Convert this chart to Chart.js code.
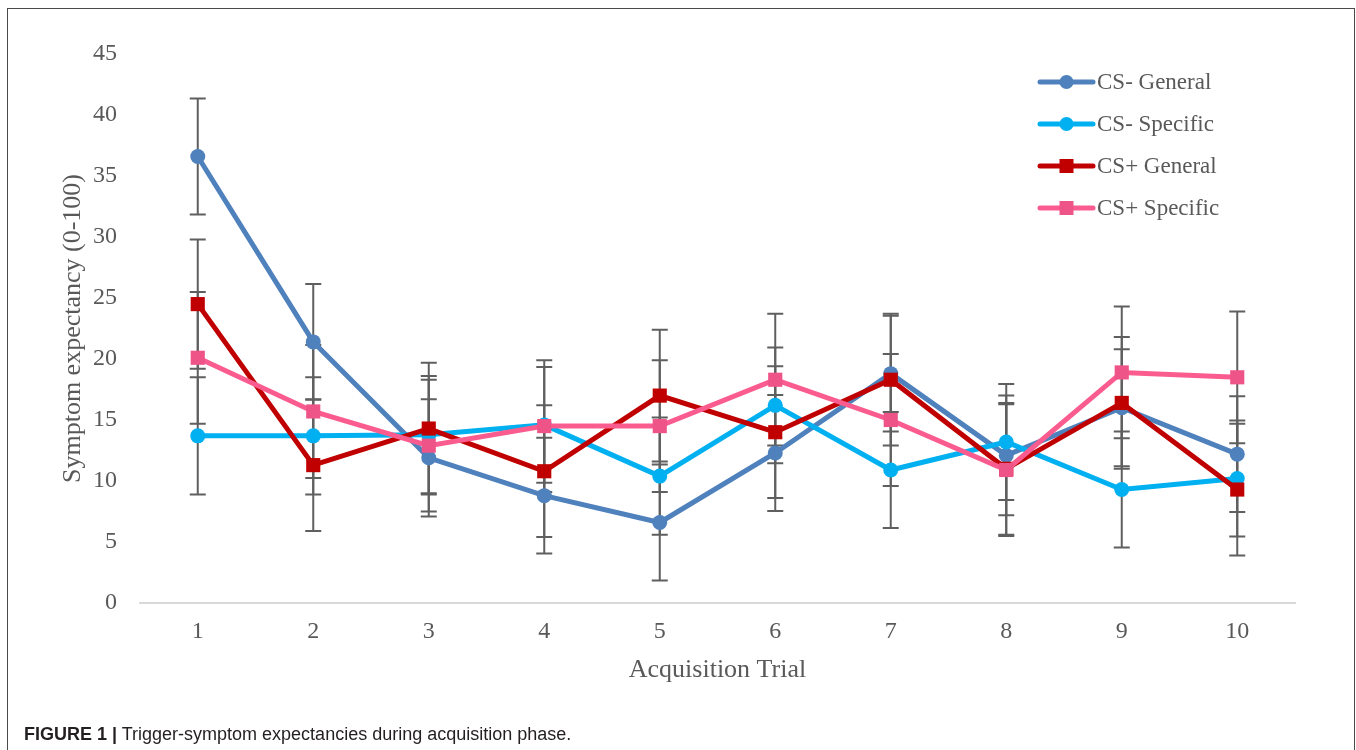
<!DOCTYPE html>
<html>
<head>
<meta charset="utf-8">
<script src="https://cdn.jsdelivr.net/npm/chart.js@4.4.1/dist/chart.umd.min.js"></script>
<style>
  html, body { margin: 0; padding: 0; background: #ffffff; overflow: hidden; }
  body { width: 1356px; height: 750px; position: relative; }
  #wrap { position: absolute; left: 0; top: 0; width: 1356px; height: 700px; }
  #frame {
    position: absolute; left: 7px; top: 8px; width: 1348px; height: 780px;
    box-sizing: border-box; border: 1.5px solid #4a4a4a; pointer-events: none;
  }
  #caption {
    position: absolute; left: 24px; top: 724px;
    font-family: "Liberation Sans", Arial, sans-serif; font-size: 18px;
    color: #231f20; white-space: nowrap;
  }
  #caption b { font-weight: bold; }
</style>
</head>
<body>
<div id="wrap"><canvas id="chart" width="1356" height="700"></canvas></div>
<div id="frame"></div>
<div id="caption"><b>FIGURE 1 |</b> Trigger-symptom expectancies during acquisition phase.</div>
<script>
// Acquisition trials
const trials = ['1', '2', '3', '4', '5', '6', '7', '8', '9', '10'];

// Mean symptom expectancy per trial
const csMinusGeneral  = [36.6, 21.4, 11.9, 8.8, 6.6, 12.3, 18.8, 12.1, 16.0, 12.2];
const csMinusSpecific = [13.7, 13.7, 13.8, 14.6, 10.4, 16.2, 10.9, 13.2, 9.3, 10.2];
const csPlusGeneral   = [24.5, 11.3, 14.3, 10.8, 17.0, 14.0, 18.3, 11.0, 16.4, 9.3];
const csPlusSpecific  = [20.1, 15.7, 12.9, 14.5, 14.5, 18.3, 15.0, 10.9, 18.9, 18.5];

// Error bar half-lengths per trial
const csMinusGeneralErr  = [4.75, 4.75, 4.8, 4.75, 4.75, 4.75, 4.75, 4.9, 4.8, 4.75];
const csMinusSpecificErr = [4.8, 4.8, 4.8, 4.75, 4.8, 4.75, 4.75, 4.75, 4.75, 4.75];
const csPlusGeneralErr   = [5.3, 5.4, 5.4, 5.4, 5.4, 5.4, 5.4, 5.4, 5.4, 5.4];
const csPlusSpecificErr  = [5.4, 5.45, 5.4, 5.4, 5.4, 5.4, 5.4, 5.4, 5.4, 5.4];

// Y axis tick range
const yMin = 0, yMax = 45, yStep = 5;

const seriesNames = ['CS- General', 'CS- Specific', 'CS+ General', 'CS+ Specific'];

const TEXT = '#595959';
const SERIF = '"Liberation Serif", "Times New Roman", serif';

function series(label, data, errors, color, markerColor, style, radius, order) {
  return {
    label, data, errors,
    borderColor: color,
    backgroundColor: markerColor,
    pointBackgroundColor: markerColor,
    pointBorderColor: markerColor,
    pointBorderWidth: 0,
    pointStyle: style,
    pointRadius: radius,
    pointHoverRadius: radius,
    borderWidth: 5,
    tension: 0,
    order
  };
}

const datasets = [
  series(seriesNames[0], csMinusGeneral,  csMinusGeneralErr,  '#4f81bd', '#4f81bd', 'circle', 7.5, 3),
  series(seriesNames[1], csMinusSpecific, csMinusSpecificErr, '#00b0f0', '#00b0f0', 'circle', 7.5, 2),
  series(seriesNames[2], csPlusGeneral,   csPlusGeneralErr,   '#c00000', '#c00000', 'rect', 10, 1),
  series(seriesNames[3], csPlusSpecific,  csPlusSpecificErr,  '#fb5c90', '#ef5489', 'rect', 10, 0)
];

// Vertical error bars with caps, drawn beneath the series lines
const errorBars = {
  id: 'errorBars',
  beforeDatasetsDraw(chart) {
    const { ctx, scales: { y } } = chart;
    ctx.save();
    ctx.strokeStyle = '#5f5f5f';
    ctx.lineWidth = 2;
    const cap = 8;
    chart.data.datasets.forEach((ds, i) => {
      const meta = chart.getDatasetMeta(i);
      ds.data.forEach((v, j) => {
        const e = ds.errors[j];
        const px = meta.data[j].x;
        const top = y.getPixelForValue(v + e);
        const bot = y.getPixelForValue(v - e);
        ctx.beginPath();
        ctx.moveTo(px, top); ctx.lineTo(px, bot);
        ctx.moveTo(px - cap, top); ctx.lineTo(px + cap, top);
        ctx.moveTo(px - cap, bot); ctx.lineTo(px + cap, bot);
        ctx.stroke();
      });
    });
    ctx.restore();
  }
};

// Legend inside the plot: line sample with marker, then label
const insideLegend = {
  id: 'insideLegend',
  afterDraw(chart) {
    const { ctx } = chart;
    const x0 = 1040, x1 = 1093, textX = 1097, y0 = 82, gap = 42;
    ctx.save();
    chart.data.datasets.forEach((ds, i) => {
      const yy = y0 + i * gap;
      ctx.strokeStyle = ds.borderColor;
      ctx.lineWidth = 5;
      ctx.lineCap = 'round';
      ctx.beginPath();
      ctx.moveTo(x0, yy); ctx.lineTo(x1, yy);
      ctx.stroke();
      ctx.fillStyle = ds.pointBackgroundColor;
      const cx = (x0 + x1) / 2;
      if (ds.pointStyle === 'circle') {
        ctx.beginPath(); ctx.arc(cx, yy, 7, 0, Math.PI * 2); ctx.fill();
      } else {
        ctx.fillRect(cx - 7, yy - 7, 14, 14);
      }
      ctx.fillStyle = TEXT;
      ctx.font = '23px ' + SERIF;
      ctx.textBaseline = 'middle';
      ctx.textAlign = 'left';
      ctx.fillText(ds.label, textX, yy + 1);
    });
    ctx.restore();
  }
};

new Chart(document.getElementById('chart'), {
  type: 'line',
  data: { labels: trials, datasets },
  plugins: [errorBars, insideLegend],
  options: {
    responsive: false,
    animation: false,
    events: [],
    layout: { padding: { left: 0, top: 54, right: 61, bottom: 0 } },
    plugins: {
      legend: { display: false },
      tooltip: { enabled: false }
    },
    scales: {
      x: {
        type: 'category',
        offset: true,
        grid: { display: false, drawTicks: false },
        border: { display: true, color: '#d9d9d9', width: 2 },
        ticks: { color: TEXT, font: { family: SERIF, size: 24 }, padding: 14, maxRotation: 0 },
        title: {
          display: true, text: 'Acquisition Trial', color: TEXT,
          font: { family: SERIF, size: 26 }, padding: { top: 0, bottom: 14 }
        },
        afterFit(scale) { scale.height = 97; }
      },
      y: {
        min: yMin, max: yMax,
        grid: { display: false, drawTicks: false },
        border: { display: false },
        ticks: { stepSize: yStep, color: TEXT, font: { family: SERIF, size: 24 }, padding: 23 },
        title: {
          display: true, text: 'Symptom expectancy (0-100)', color: TEXT,
          font: { family: SERIF, size: 26 }, padding: { top: 58, bottom: 0 }
        },
        afterFit(scale) { scale.width = 140; }
      }
    }
  }
});
</script>
</body>
</html>
